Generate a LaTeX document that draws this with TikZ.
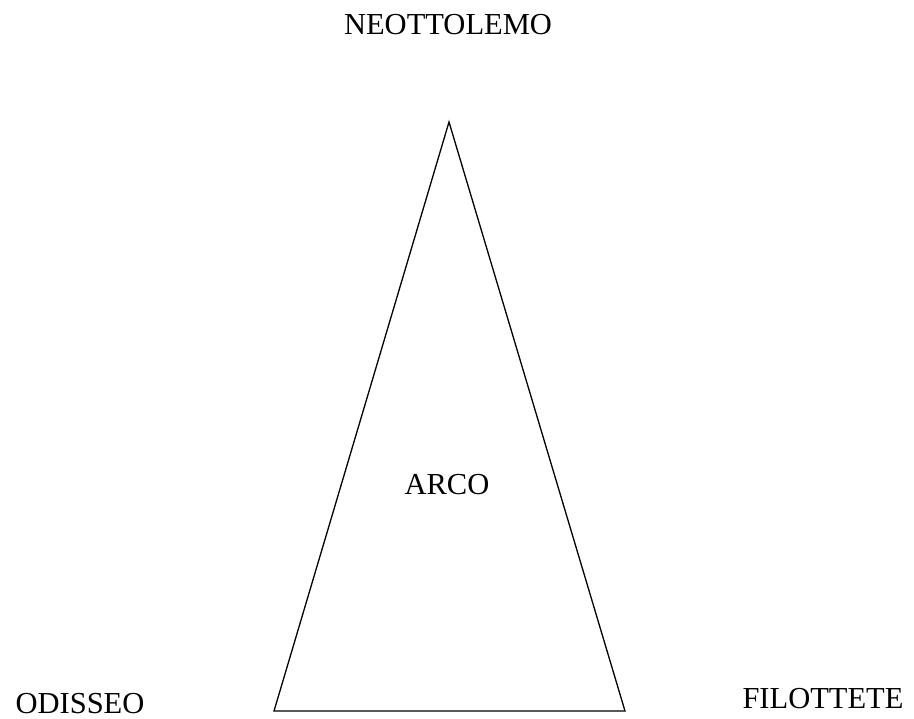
\documentclass[tikz,border=0pt]{standalone}
\usepackage{fontspec}
\setmainfont{Liberation Serif}
\usepackage{tikz}
\usetikzlibrary{positioning}

\begin{document}
\begin{tikzpicture}[
  x=1pt,y=-1pt,
  every node/.style={align=center},
  persona/.style={font=\fontsize{30.5}{34}\selectfont,inner sep=0pt},
  edge/.style={draw=black,line width=1.3pt,line join=miter}
]
\useasboundingbox (0,0) rectangle (914,719);
\coordinate (apex) at (449,122);
\coordinate (bl) at (274,711);
\coordinate (br) at (625,711);
\draw[edge] (apex)--(br)--(bl)--cycle;
\node[persona] (neo) at (448,25) {NEOTTOLEMO};
\node[persona] (arco) at (447,485) {ARCO};
\node[persona] (odi) at (80,704) {ODISSEO};
\node[persona] (filo) at (823,699) {FILOTTETE};
\end{tikzpicture}
\end{document}
